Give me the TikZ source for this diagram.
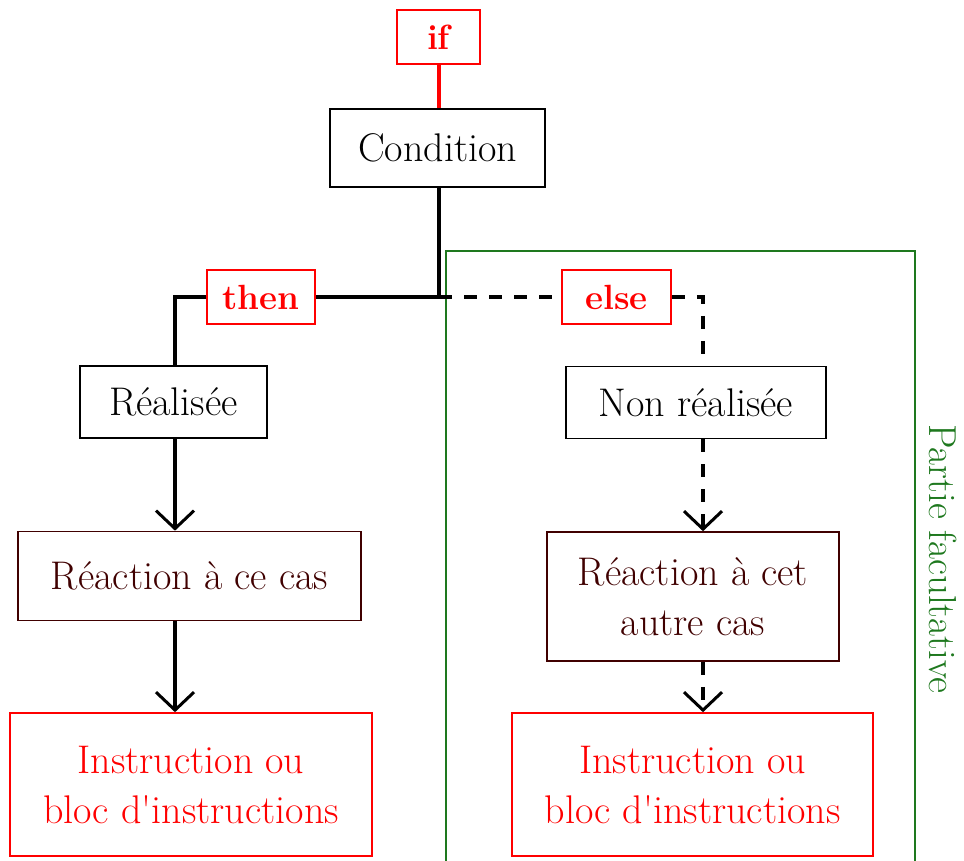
\documentclass[tikz,border=0pt]{standalone}
\usetikzlibrary{arrows.meta}
\definecolor{brn}{RGB}{64,0,0}
\definecolor{grn}{RGB}{30,120,30}
\definecolor{rd}{RGB}{255,0,0}
\begin{document}
\begin{tikzpicture}[x=1pt,y=-1pt,
 box/.style={draw,line width=1.6pt,inner sep=0pt,align=center,font=\fontsize{40}{50}\selectfont},
 lbl/.style={draw=rd,text=rd,line width=1.6pt,inner sep=0pt,font=\fontsize{35}{40}\selectfont\bfseries},
 conn/.style={line width=3.5pt},
 arr/.style={conn,-{Straight Barb[length=18pt,width=38pt,line width=3pt]}},
 dsh/.style={dash pattern=on 13pt off 12pt},
 frame/.style={draw=grn,line width=1.8pt}]
\useasboundingbox (0,0) rectangle (964,861);
% boxes
\node[lbl,minimum width=83pt,minimum height=54pt] (if) at (438.5,37) {if};
\node[box,minimum width=215pt,minimum height=78pt] (cond) at (437.5,148) {Condition};
\node[lbl,minimum width=108pt,minimum height=54pt] (then) at (261,297) {then};
\node[lbl,minimum width=109pt,minimum height=54pt] (else) at (616.5,297) {else};
\node[box,minimum width=187pt,minimum height=72pt] (real) at (173.5,402) {Réalisée};
\node[box,minimum width=260pt,minimum height=72pt] (nonreal) at (696,402.5) {Non réalisée};
\node[box,draw=brn,text=brn,minimum width=343pt,minimum height=89pt] (reac1) at (189.5,576) {Réaction à ce cas};
\node[box,draw=brn,text=brn,minimum width=292pt,minimum height=129pt] (reac2) at (693,596.5) {Réaction à cet\\autre cas};
\node[box,draw=rd,text=rd,minimum width=362pt,minimum height=143pt] (inst1) at (191,784.5) {Instruction ou\\bloc d\textquotesingle instructions};
\node[box,draw=rd,text=rd,minimum width=361pt,minimum height=143pt] (inst2) at (692.5,784.5) {Instruction ou\\bloc d\textquotesingle instructions};
% optional part frame
\draw[frame] (446,861) -- (446,251) -- (915,251) -- (915,861);
\node[text=grn,rotate=-90,font=\fontsize{39}{40}\selectfont] (pf) at (943,559) {Partie facultative};
% connectors
\coordinate (J) at (439,297);
\coordinate (L) at (175,297);
\coordinate (V) at (703,297);
\draw[conn,rd] (if.south -| J) -- (cond.north -| J);
\draw[conn] (cond.south -| J) -- (J) -- (then.east);
\draw[conn] (then.west) -- (L) -- (L |- real.north);
\draw[arr] (L |- real.south) -- (L |- reac1.north);
\draw[arr] (L |- reac1.south) -- (L |- inst1.north);
\draw[conn,dsh] (J) -- (else.west);
\draw[conn,dsh] (else.east) -- (V) -- (V |- nonreal.north);
\draw[arr,dsh] (V |- nonreal.south) -- (V |- reac2.north);
\draw[arr,dsh] (V |- reac2.south) -- (V |- inst2.north);
\end{tikzpicture}
\end{document}
